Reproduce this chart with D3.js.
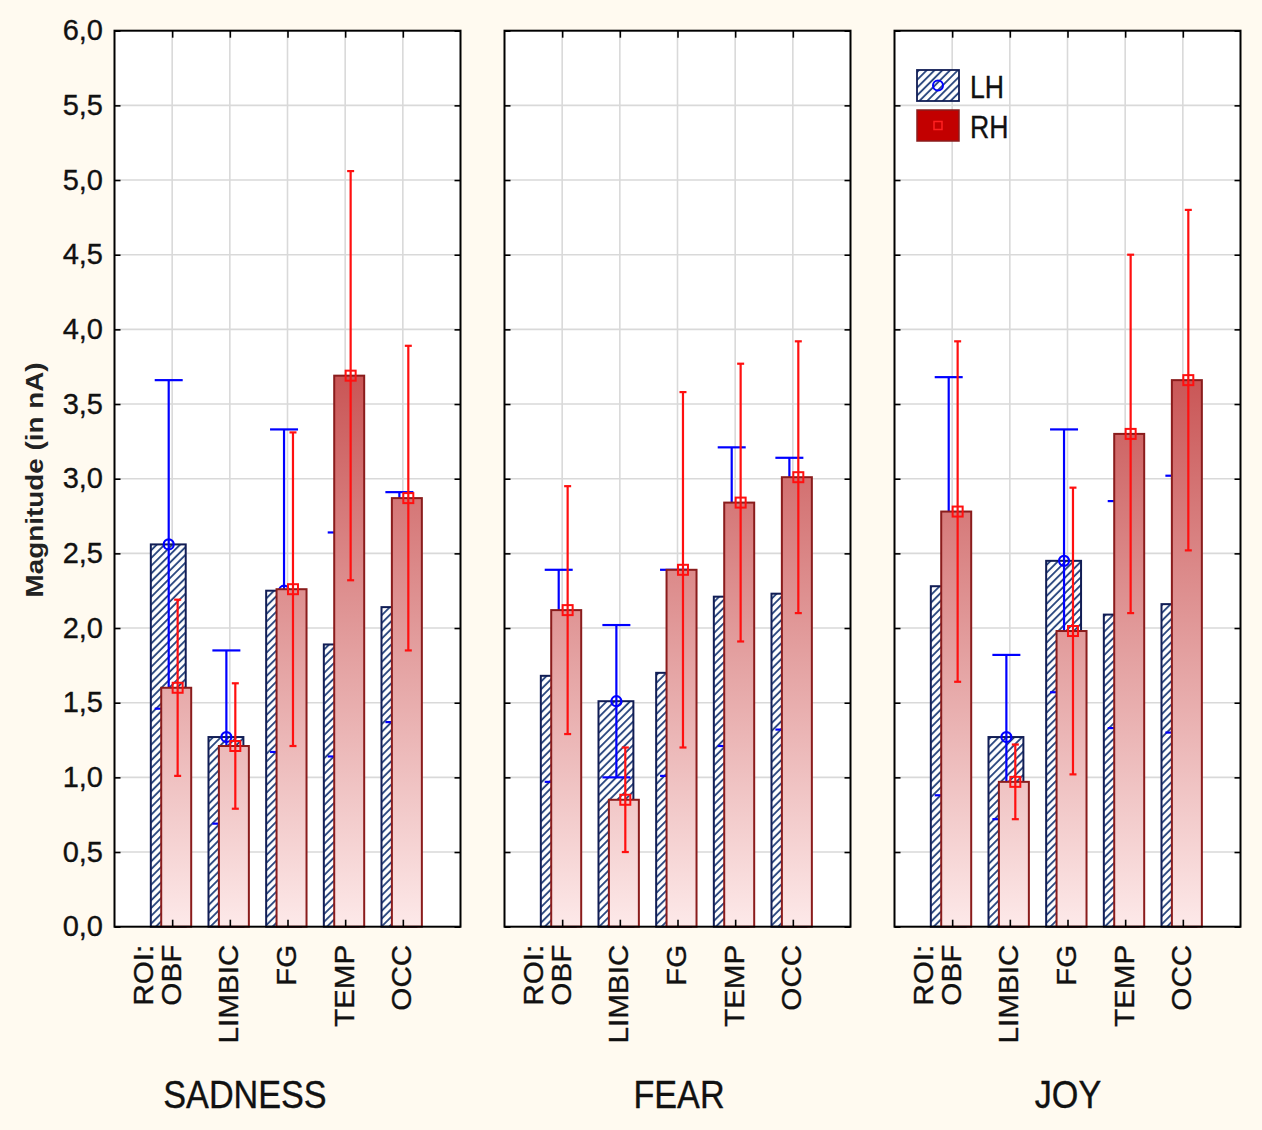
<!DOCTYPE html>
<html>
<head>
<meta charset="utf-8">
<script src="https://cdn.jsdelivr.net/npm/d3@7"></script>
<style>
  body { margin: 0; background: #fffaf0; }
  svg { display: block; }
</style>
</head>
<body>
<div id="chart"></div>
<script>
// ---- data ----
var emotions = ["SADNESS", "FEAR", "JOY"];
var rois = ["OBF", "LIMBIC", "FG", "TEMP", "OCC"];
var seriesNames = ["LH", "RH"];

// left hemisphere: means and half-width of error bars, one row per emotion
var lhMean = [
  [2.56, 1.27, 2.25, 1.89, 2.14],
  [1.68, 1.51, 1.70, 2.21, 2.23],
  [2.28, 1.27, 2.45, 2.09, 2.16]
];
var lhErr = [
  [1.10, 0.58, 1.08, 0.75, 0.77],
  [0.71, 0.51, 0.69, 1.00, 0.91],
  [1.40, 0.55, 0.88, 0.76, 0.86]
];
// right hemisphere
var rhMean = [
  [1.60, 1.21, 2.26, 3.69, 2.87],
  [2.12, 0.85, 2.39, 2.84, 3.01],
  [2.78, 0.97, 1.98, 3.30, 3.66]
];
var rhErr = [
  [0.59, 0.42, 1.05, 1.37, 1.02],
  [0.83, 0.35, 1.19, 0.93, 0.91],
  [1.14, 0.25, 0.96, 1.20, 1.14]
];
var yTicks = [0, 0.5, 1, 1.5, 2, 2.5, 3, 3.5, 4, 4.5, 5, 5.5, 6];
var yTitle = "Magnitude (in nA)";
var factorName = "ROI:";

// ---- layout ----
var W = 1262, H = 1130;
var plotTop = 30.7, plotBottom = 926.7;
var panelW = 346;
var panelLeft = [114.5, 504.5, 894.5];
var titleX = [245, 679, 1068];
var font = "'Liberation Sans', Arial, sans-serif";

var svg = d3.select("#chart").append("svg")
    .attr("width", W)
    .attr("height", H);

svg.append("rect")
    .attr("width", W).attr("height", H)
    .attr("fill", "#fffaf0");

var y = d3.scaleLinear().domain([0, 6]).range([plotBottom, plotTop]);

var defs = svg.append("defs");
var hatch = defs.append("pattern")
    .attr("id", "hatch")
    .attr("patternUnits", "userSpaceOnUse")
    .attr("width", 5.5).attr("height", 5.5)
    .attr("patternTransform", "rotate(45)");
hatch.append("rect").attr("width", 5.5).attr("height", 5.5).attr("fill", "#fff");
hatch.append("line")
    .attr("x1", 1).attr("y1", 0).attr("x2", 1).attr("y2", 5.5)
    .attr("stroke", "#22407a").attr("stroke-width", 1.8);

var grad = defs.append("linearGradient")
    .attr("id", "redgrad")
    .attr("gradientUnits", "userSpaceOnUse")
    .attr("x1", 0).attr("x2", 0)
    .attr("y1", y(3.7)).attr("y2", y(0));
grad.append("stop").attr("offset", "0%").attr("stop-color", "#c95555");
grad.append("stop").attr("offset", "100%").attr("stop-color", "#fde9e9");

var fmt = d3.formatLocale({decimal: ",", thousands: ".", grouping: [3], currency: ["", ""]}).format(".1f");

function textStyle(sel, size) {
    sel.attr("font-family", font).attr("font-size", size)
        .attr("fill", "#111").attr("stroke", "#111").attr("stroke-width", 0.35);
}

emotions.forEach((emo, p) => {
    var x0 = panelLeft[p];
    var x = d3.scalePoint().domain(rois).range([x0, x0 + panelW]).padding(1);
    var step = x.step();
    var g = svg.append("g");

    g.append("rect")
        .attr("x", x0).attr("y", plotTop)
        .attr("width", panelW).attr("height", plotBottom - plotTop)
        .attr("fill", "#fff");

    // grid
    g.selectAll(".hgrid").data(yTicks.slice(1, -1)).enter().append("line")
        .attr("x1", x0).attr("x2", x0 + panelW)
        .attr("y1", d => y(d)).attr("y2", d => y(d))
        .attr("stroke", "#d9d9d9").attr("stroke-width", 1.6);
    g.selectAll(".vgrid").data(rois).enter().append("line")
        .attr("x1", d => x(d)).attr("x2", d => x(d))
        .attr("y1", plotTop).attr("y2", plotBottom)
        .attr("stroke", "#d9d9d9").attr("stroke-width", 1.6);

    var lh = rois.map((r, i) => ({roi: r, m: lhMean[p][i], e: lhErr[p][i]}));
    var rh = rois.map((r, i) => ({roi: r, m: rhMean[p][i], e: rhErr[p][i]}));

    // LH bars
    g.selectAll(".lhbar").data(lh).enter().append("rect")
        .attr("x", d => x(d.roi) - 0.37 * step)
        .attr("width", 0.605 * step)
        .attr("y", d => y(d.m))
        .attr("height", d => y(0) - y(d.m))
        .attr("fill", "url(#hatch)")
        .attr("stroke", "#111d55").attr("stroke-width", 2);

    // LH error bars
    var lhx = d => x(d.roi) - 0.06 * step;
    g.selectAll(".lhwhisk").data(lh).enter().append("line")
        .attr("x1", lhx).attr("x2", lhx)
        .attr("y1", d => y(d.m + d.e)).attr("y2", d => y(d.m - d.e))
        .attr("stroke", "#0000ff").attr("stroke-width", 2.2);
    [1, -1].forEach(s => {
        g.selectAll(".lhcap").data(lh).enter().append("line")
            .attr("x1", d => lhx(d) - 14).attr("x2", d => lhx(d) + 14)
            .attr("y1", d => y(d.m + s * d.e)).attr("y2", d => y(d.m + s * d.e))
            .attr("stroke", "#0000ff").attr("stroke-width", 2.2);
    });
    g.selectAll(".lhpt").data(lh).enter().append("circle")
        .attr("cx", lhx).attr("cy", d => y(d.m)).attr("r", 5)
        .attr("fill", "none").attr("stroke", "#0000ff").attr("stroke-width", 2.2);

    // RH bars
    g.selectAll(".rhbar").data(rh).enter().append("rect")
        .attr("x", d => x(d.roi) - 0.19 * step)
        .attr("width", 0.52 * step)
        .attr("y", d => y(d.m))
        .attr("height", d => y(0) - y(d.m))
        .attr("fill", "url(#redgrad)")
        .attr("stroke", "#8a1c1c").attr("stroke-width", 2);

    // RH error bars
    var rhx = d => x(d.roi) + 0.095 * step;
    g.selectAll(".rhwhisk").data(rh).enter().append("line")
        .attr("x1", rhx).attr("x2", rhx)
        .attr("y1", d => y(d.m + d.e)).attr("y2", d => y(d.m - d.e))
        .attr("stroke", "#ff1010").attr("stroke-width", 2.2);
    [1, -1].forEach(s => {
        g.selectAll(".rhcap").data(rh).enter().append("line")
            .attr("x1", d => rhx(d) - 3.5).attr("x2", d => rhx(d) + 3.5)
            .attr("y1", d => y(d.m + s * d.e)).attr("y2", d => y(d.m + s * d.e))
            .attr("stroke", "#ff1010").attr("stroke-width", 2.2);
    });
    g.selectAll(".rhpt").data(rh).enter().append("rect")
        .attr("x", d => rhx(d) - 5).attr("y", d => y(d.m) - 5)
        .attr("width", 10).attr("height", 10)
        .attr("fill", "none").attr("stroke", "#ff1010").attr("stroke-width", 2);

    // inward ticks on all sides
    var left = g.append("g").attr("transform", `translate(${x0},0)`)
        .call(d3.axisLeft(y).tickValues(yTicks).tickSize(-6).tickPadding(11.5)
            .tickFormat(p === 0 ? fmt : ""));
    g.append("g").attr("transform", `translate(${x0 + panelW},0)`)
        .call(d3.axisRight(y).tickValues(yTicks).tickSize(-6).tickFormat(""));
    g.append("g").attr("transform", `translate(0,${plotTop})`)
        .call(d3.axisTop(x).tickSize(-7).tickFormat(""));
    var bot = g.append("g").attr("transform", `translate(0,${plotBottom})`)
        .call(d3.axisBottom(x).tickSize(-7));
    g.selectAll(".domain").remove();
    g.selectAll(".tick line").attr("stroke", "#000").attr("stroke-width", 1.6);

    left.selectAll("text").call(textStyle, 29);

    var sy = 1.06;
    bot.selectAll(".tick text")
        .call(textStyle, 28)
        .attr("text-anchor", "end")
        .attr("dy", null)
        .attr("transform", `rotate(-90) scale(${sy},1)`)
        .attr("x", -18 / sy)
        .attr("y", 8);
    bot.select(".tick").append("text")
        .call(textStyle, 28)
        .attr("text-anchor", "end")
        .attr("transform", `rotate(-90) scale(${sy},1)`)
        .attr("x", -18 / sy)
        .attr("y", -20)
        .text(factorName);

    // frame
    g.append("rect")
        .attr("x", x0).attr("y", plotTop)
        .attr("width", panelW).attr("height", plotBottom - plotTop)
        .attr("fill", "none").attr("stroke", "#000").attr("stroke-width", 2);

    // panel title
    svg.append("text")
        .attr("transform", `translate(${titleX[p]},1108) scale(0.9,1)`)
        .attr("text-anchor", "middle")
        .call(textStyle, 38)
        .text(emo);
});

// y axis title
svg.append("text")
    .attr("transform", "translate(43,480) rotate(-90) scale(1.16,1)")
    .attr("text-anchor", "middle")
    .attr("font-family", font).attr("font-size", 24).attr("font-weight", "bold")
    .attr("fill", "#222")
    .text(yTitle);

// legend
var lg = svg.append("g");
var legendY = [70, 110];
lg.append("rect").attr("x", 917).attr("y", legendY[0]).attr("width", 42).attr("height", 31)
    .attr("fill", "url(#hatch)").attr("stroke", "#111d55").attr("stroke-width", 1.8);
lg.append("circle").attr("cx", 938).attr("cy", legendY[0] + 15.5).attr("r", 5)
    .attr("fill", "none").attr("stroke", "#0000ff").attr("stroke-width", 2);
lg.append("rect").attr("x", 917).attr("y", legendY[1]).attr("width", 42).attr("height", 31)
    .attr("fill", "#c20000").attr("stroke", "#8a1c1c").attr("stroke-width", 1.5);
lg.append("rect").attr("x", 934).attr("y", legendY[1] + 11.5).attr("width", 8).attr("height", 8)
    .attr("fill", "none").attr("stroke", "#ff2020").attr("stroke-width", 1.5);
lg.selectAll(".ltext").data(seriesNames).enter().append("text")
    .attr("transform", (d, i) => `translate(970,${legendY[i] + 28}) scale(0.86,1)`)
    .call(textStyle, 31)
    .text(d => d);
</script>
</body>
</html>
